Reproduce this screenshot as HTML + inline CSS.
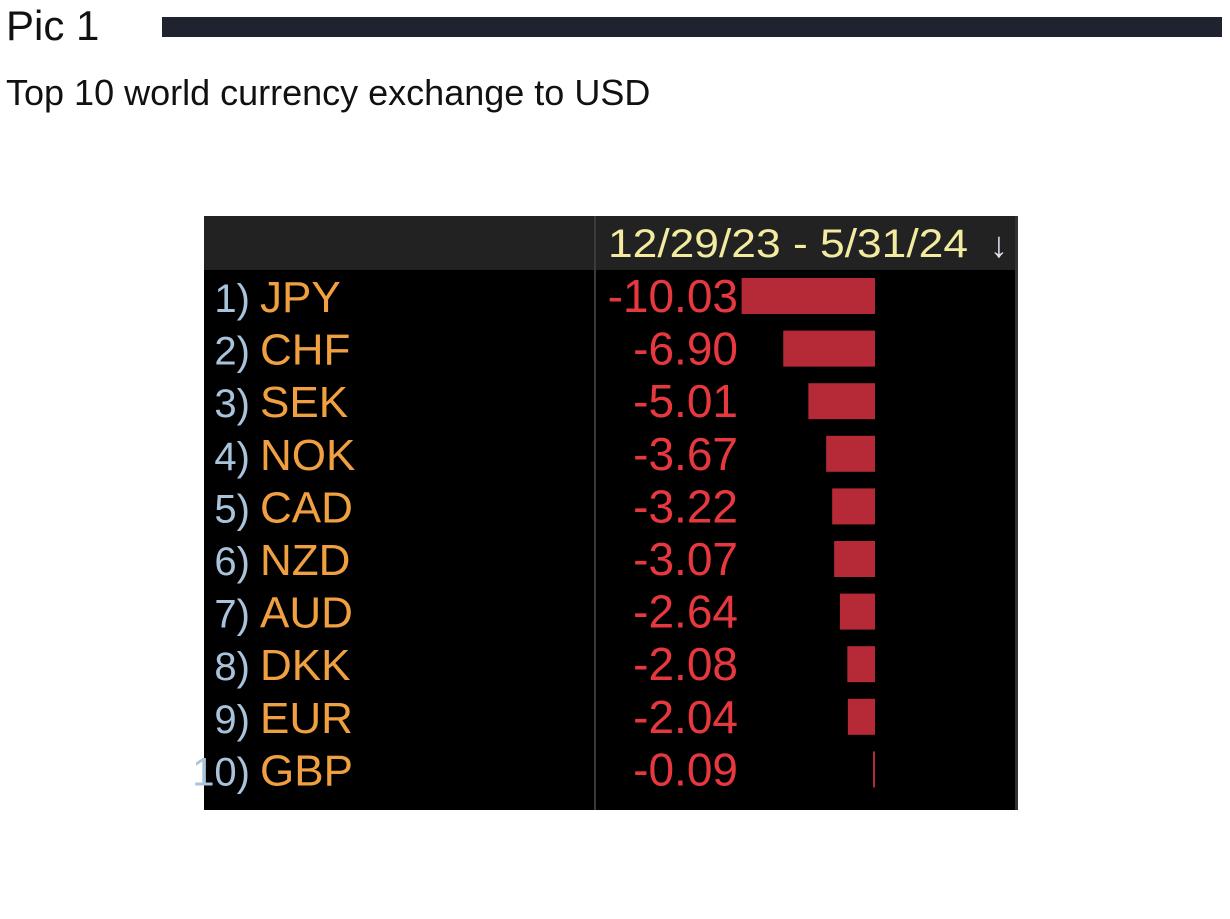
<!DOCTYPE html>
<html><head><meta charset="utf-8"><style>
body{margin:0;background:#fff;width:1230px;height:914px;overflow:hidden;font-family:"Liberation Sans",sans-serif}
</style></head><body>
<svg width="1230" height="914">
<text x="6" y="40" font-size="42" fill="#111" font-family="Liberation Sans, sans-serif">Pic 1</text>
<rect x="162" y="17" width="1060" height="20" fill="#1f2330"/>
<text x="6" y="105" font-size="36" fill="#111" font-family="Liberation Sans, sans-serif">Top 10 world currency exchange to USD</text>
<rect x="204" y="216" width="814" height="594" fill="#000"/>
<rect x="204" y="216" width="814" height="54" fill="#222"/>
<rect x="594" y="216" width="2" height="594" fill="#3a3a3a"/>
<rect x="1015" y="216" width="3" height="594" fill="#333"/>
<text x="608" y="257" font-size="40" fill="#f3eca0" textLength="360" lengthAdjust="spacingAndGlyphs" font-family="Liberation Sans Narrow, Liberation Sans, sans-serif">12/29/23 - 5/31/24</text>
<text x="990" y="257" font-size="36" fill="#dde" font-family="Liberation Sans, sans-serif">↓</text>
<g id="rows"></g>
</svg>
<script>
const categories=["JPY","CHF","SEK","NOK","CAD","NZD","AUD","DKK","EUR","GBP"];
const values=[-10.03,-6.90,-5.01,-3.67,-3.22,-3.07,-2.64,-2.08,-2.04,-0.09];
const labels=["-10.03","-6.90","-5.01","-3.67","-3.22","-3.07","-2.64","-2.08","-2.04","-0.09"];
const NS="http://www.w3.org/2000/svg";
const g=document.getElementById('rows');
const y0=296, step=52.6, right=875, scale=13.3;
const yPos=i=>y0+i*step;
const xLen=v=>Math.abs(v)*scale;
function mk(tag,attrs){const e=document.createElementNS(NS,tag);for(const k in attrs)e.setAttribute(k,attrs[k]);g.appendChild(e);return e;}
categories.forEach((c,i)=>{
  const y=yPos(i);
  const n=mk('text',{x:250,y:y+16,'font-size':40,fill:'#a9c3dd','text-anchor':'end','font-family':'Liberation Sans Narrow, Liberation Sans, sans-serif'});
  
  
  n.textContent=(i+1)+')';
  const t=mk('text',{x:260,y:y+16,'font-size':44,fill:'#f0a040','font-family':'Liberation Sans Narrow, Liberation Sans, sans-serif'});
  
  
  t.textContent=c;
  const v=mk('text',{x:738,y:y+16,'font-size':46,fill:'#e8383f','text-anchor':'end','font-family':'Liberation Sans Narrow, Liberation Sans, sans-serif'});
  
  
  v.textContent=labels[i];
  const w=Math.max(xLen(values[i]),2);
  const b=mk('rect',{x:right-w,y:y-18,width:w,height:36,fill:'#b52a36'});
  
  
});
</script>
</body></html>
